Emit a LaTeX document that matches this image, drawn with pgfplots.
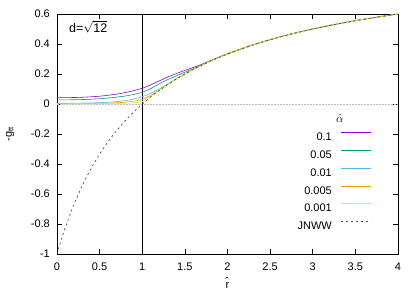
\documentclass[border=0pt]{standalone}
\usepackage{fontspec}
\setmainfont{Liberation Sans}
\usepackage{pgfplots}
\pgfplotsset{compat=1.18}
\definecolor{gpviolet}{RGB}{148,0,211}
\definecolor{gpgreen}{RGB}{0,158,115}
\definecolor{gpblue}{RGB}{86,180,233}
\definecolor{gporange}{RGB}{230,159,0}
\definecolor{gpyellow}{RGB}{240,228,66}
\begin{document}
\fontsize{11bp}{13bp}\selectfont
\begin{tikzpicture}
\begin{axis}[
  at={(0,0)}, scale only axis, width=341bp, height=240bp,
  xmin=0, xmax=4, ymin=-1, ymax=0.6,
  xtick={0,0.5,...,4}, ytick={-1,-0.8,-0.6,-0.4,-0.2,0,0.2,0.4,0.6},
  xticklabels={0,0.5,1,1.5,2,2.5,3,3.5,4},
  yticklabels={-1,-0.8,-0.6,-0.4,-0.2,0,0.2,0.4,0.6},
  axis line style={line width=0.8bp},
  major tick length=5bp, tick style={black, line width=0.6bp},
  tick align=inside,
  /pgf/number format/assume math mode=true,
  ticklabel style={font=\fontsize{11bp}{13bp}\selectfont},
  xticklabel style={yshift=-5.2bp},
  yticklabel style={xshift=-3.3bp},
  every axis y label/.style={at={(axis description cs:0,0.5)}, xshift=-47bp, rotate=90, anchor=center},
  every axis x label/.style={at={(axis description cs:0.5,0)}, yshift=-29bp, anchor=center},
  ylabel={-g\textsubscript{tt}},
  xlabel={\^{r}},
  legend style={at={(rel axis cs:0.9238,0.508)}, anchor=north east, draw=none, fill=none, inner sep=0pt,
     row sep=9.3bp, column sep=9bp,
     nodes={inner sep=0pt, text height=8bp, text depth=0bp, font=\fontsize{11bp}{13bp}\selectfont}},
  legend cell align=right,
  legend plot pos=right,
]
\addplot[lightgray, densely dotted, line width=0.5bp, forget plot] coordinates {(0,0) (4,0)};
\addplot[black, line width=0.7bp, forget plot] coordinates {(1,-1) (1,0.6)};

\addplot[gpviolet, line width=0.6bp, smooth, legend image code/.code={\draw[draw=gpviolet, line width=1bp] (0bp,4bp) -- (30bp,4bp);}] coordinates {
(0,0.042) (0.25,0.044) (0.5,0.052) (0.7,0.066) (0.85,0.082) (1.0,0.105) (1.1,0.128) (1.2,0.154) (1.3,0.18) (1.4,0.203) (1.5,0.224) (1.6,0.244) (1.7,0.265) (1.8,0.29) (1.9,0.313) (2.0,0.336) (2.25,0.386) (2.5,0.4295) (2.75,0.4675) (3.0,0.5) (3.25,0.5294) (3.5,0.5556) (3.75,0.5789) (4.0,0.6)};
\addlegendentry{0.1}
\addplot[gpgreen, line width=0.6bp, smooth, legend image code/.code={\draw[draw=gpgreen, line width=1bp] (0bp,4bp) -- (30bp,4bp);}] coordinates {
(0,0.027) (0.25,0.029) (0.5,0.035) (0.7,0.046) (0.85,0.058) (1.0,0.078) (1.1,0.103) (1.2,0.135) (1.3,0.163) (1.4,0.188) (1.5,0.212) (1.6,0.236) (1.7,0.261) (1.8,0.2865) (1.9,0.3105) (2.0,0.3335) (2.25,0.3846) (2.5,0.4286) (2.75,0.4667) (3.0,0.5) (3.25,0.5294) (3.5,0.5556) (3.75,0.5789) (4.0,0.6)};
\addlegendentry{0.05}
\addplot[gpblue, line width=0.6bp, smooth, legend image code/.code={\draw[draw=gpblue, line width=1bp] (0bp,4bp) -- (30bp,4bp);}] coordinates {
(0,0.005) (0.25,0.006) (0.5,0.009) (0.7,0.016) (0.85,0.027) (1.0,0.048) (1.1,0.072) (1.2,0.1) (1.3,0.134) (1.4,0.17) (1.5,0.202) (1.6,0.2315) (1.7,0.2593) (1.8,0.2857) (1.9,0.3103) (2.0,0.3333) (2.25,0.3846) (2.5,0.4286) (2.75,0.4667) (3.0,0.5) (3.25,0.5294) (3.5,0.5556) (3.75,0.5789) (4.0,0.6)};
\addlegendentry{0.01}
\addplot[gporange, line width=0.6bp, smooth, legend image code/.code={\draw[draw=gporange, line width=1bp] (0bp,4bp) -- (30bp,4bp);}] coordinates {
(0,0.002) (0.5,0.004) (0.7,0.008) (0.85,0.015) (1.0,0.03) (1.1,0.058) (1.2,0.093) (1.3,0.131) (1.4,0.1667) (1.5,0.2) (1.6,0.2308) (1.7,0.2593) (1.8,0.2857) (1.9,0.3103) (2.0,0.3333) (2.25,0.3846) (2.5,0.4286) (2.75,0.4667) (3.0,0.5) (3.25,0.5294) (3.5,0.5556) (3.75,0.5789) (4.0,0.6)};
\addlegendentry{0.005}
\addplot[gpyellow, line width=0.6bp, smooth, legend image code/.code={\draw[draw=gpyellow, line width=1bp] (0bp,4bp) -- (30bp,4bp);}] coordinates {
(0,0.001) (0.5,0.002) (0.75,0.004) (0.9,0.008) (1.0,0.017) (1.1,0.05) (1.2,0.091) (1.3,0.1304) (1.4,0.1667) (1.5,0.2) (1.6,0.2308) (1.7,0.2593) (1.8,0.2857) (1.9,0.3103) (2.0,0.3333) (2.25,0.3846) (2.5,0.4286) (2.75,0.4667) (3.0,0.5) (3.25,0.5294) (3.5,0.5556) (3.75,0.5789) (4.0,0.6)};
\addlegendentry{0.001}
\addplot[black!80, line width=0.6bp, dash pattern=on 2bp off 3bp, legend image code/.code={\draw[black!70, line width=0.6bp, dash pattern=on 2bp off 3bp] (0bp,4bp) -- (30bp,4bp);}] coordinates {
(0,-1) (0.05,-0.9048) (0.1,-0.8182) (0.2,-0.6667) (0.3,-0.5385) (0.4,-0.4286) (0.5,-0.3333) (0.6,-0.25) (0.7,-0.1765) (0.8,-0.1111) (0.9,-0.0526) (1.0,0) (1.1,0.0476) (1.2,0.0909) (1.3,0.1304) (1.4,0.1667) (1.5,0.2) (1.6,0.2308) (1.7,0.2593) (1.8,0.2857) (1.9,0.3103) (2.0,0.3333) (2.25,0.3846) (2.5,0.4286) (2.75,0.4667) (3.0,0.5) (3.25,0.5294) (3.5,0.5556) (3.75,0.5789) (4.0,0.6)};
\addlegendentry{JNWW}
\node[anchor=west, inner sep=0pt, font=\fontsize{12.5bp}{14bp}\selectfont] at (axis cs:0.141,0.513) {d=$\sqrt{\hbox{12}}$};
\node[inner sep=0pt, font=\fontsize{12bp}{14bp}\selectfont] at (axis cs:3.318,-0.093) {$\hat{\alpha}$};
\end{axis}
\pgfresetboundingbox
\path[use as bounding box] ([shift={(-57bp,-38bp)}]current axis.south west) rectangle ([shift={(19bp,14bp)}]current axis.north east);
\end{tikzpicture}
\end{document}
